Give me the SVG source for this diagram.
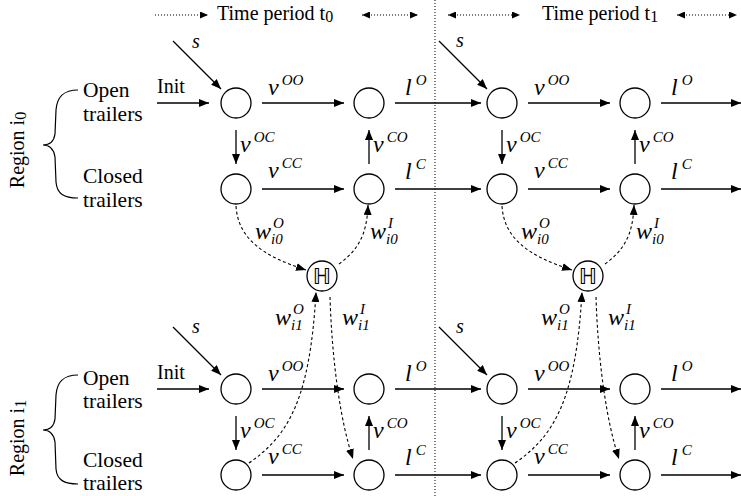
<svg xmlns="http://www.w3.org/2000/svg" width="741" height="496" viewBox="0 0 741 496">
<defs>
<marker id="ah" markerUnits="userSpaceOnUse" markerWidth="10" markerHeight="8" refX="10" refY="4" orient="auto-start-reverse"><path d="M0,0 L10,4 L0,8 z" fill="#000"/></marker>
<marker id="as" markerUnits="userSpaceOnUse" markerWidth="8" markerHeight="7" refX="8" refY="3.5" orient="auto-start-reverse"><path d="M0,0 L8,3.5 L0,7 z" fill="#000"/></marker>
<style>
.t{font-family:"Liberation Serif","Times New Roman",serif;font-size:20px;fill:#000}
.big{font-size:21.5px}
.it{font-style:italic}
.m{font-family:"Liberation Serif","Times New Roman",serif;font-size:24px;font-style:italic;fill:#000}
.sp{font-family:"Liberation Serif","Times New Roman",serif;font-size:15px;font-style:italic;fill:#000}
.n{fill:#fff;stroke:#000;stroke-width:1.3}
.e{stroke:#000;stroke-width:1.3;fill:none;marker-end:url(#ah)}
.d{stroke:#000;stroke-width:1.1;fill:none;stroke-dasharray:3,2.5;marker-end:url(#ah)}
.h{stroke:#000;stroke-width:1;fill:none;stroke-dasharray:1,2;marker-end:url(#as)}
.hb{marker-start:url(#as)}
.br{stroke:#000;stroke-width:1.2;fill:none}
.hub{font-family:"DejaVu Sans",sans-serif;font-size:22px;fill:#000}
</style>
</defs>

<!-- header -->
<g id="header">
<line x1="435" y1="0" x2="435" y2="496" stroke="#000" stroke-width="1" stroke-dasharray="1,2"/>
<line class="h" x1="155" y1="15" x2="208" y2="15"/>
<line class="h hb" x1="362" y1="15" x2="418" y2="15"/>
<line class="h hb" x1="448" y1="15" x2="520" y2="15"/>
<line class="h hb" x1="677" y1="15" x2="737" y2="15"/>
<text class="t" x="217" y="20" font-size="20.5">Time period t<tspan font-size="16" dy="2">0</tspan></text>
<text class="t" x="542" y="20" font-size="20.5">Time period t<tspan font-size="16" dy="2">1</tspan></text>
</g>

<!-- region labels -->
<g id="region0">
<text class="t" transform="translate(24,150) rotate(-90)" text-anchor="middle">Region i<tspan font-size="16" dy="2">0</tspan></text>
<path class="br" d="M78,90 C64,90 57,96 56,110 L55,134 C54,141 50,145 43,145 C50,145 54,150 55,157 L56,182 C57,194 64,198 78,198"/>
<text class="t big" x="83" y="97">Open</text>
<text class="t big" x="83" y="121">trailers</text>
<text class="t big" x="83" y="183">Closed</text>
<text class="t big" x="83" y="207">trailers</text>
</g>
<g id="region1">
<text class="t" transform="translate(24,438) rotate(-90)" text-anchor="middle">Region i<tspan font-size="16" dy="2">1</tspan></text>
<path class="br" d="M78,375 C64,375 57,381 56,395 L55,419 C54,426 50,430 43,430 C50,430 54,435 55,442 L56,469 C57,480 64,484 78,484"/>
<text class="t big" x="83" y="385">Open</text>
<text class="t big" x="83" y="408">trailers</text>
<text class="t big" x="83" y="467">Closed</text>
<text class="t big" x="83" y="490">trailers</text>
</g>

<!-- nodes -->
<g id="n_t0_r0_open"><circle class="n" cx="236" cy="103" r="15"/></g>
<g id="n_t0_r0_open2"><circle class="n" cx="369" cy="103" r="15"/></g>
<g id="n_t0_r0_closed"><circle class="n" cx="236" cy="189" r="15"/></g>
<g id="n_t0_r0_closed2"><circle class="n" cx="369" cy="189" r="15"/></g>
<g id="n_t1_r0_open"><circle class="n" cx="502" cy="103" r="15"/></g>
<g id="n_t1_r0_open2"><circle class="n" cx="635" cy="103" r="15"/></g>
<g id="n_t1_r0_closed"><circle class="n" cx="502" cy="189" r="15"/></g>
<g id="n_t1_r0_closed2"><circle class="n" cx="635" cy="189" r="15"/></g>
<g id="n_t0_r1_open"><circle class="n" cx="236" cy="389" r="15"/></g>
<g id="n_t0_r1_open2"><circle class="n" cx="369" cy="389" r="15"/></g>
<g id="n_t0_r1_closed"><circle class="n" cx="236" cy="475" r="15"/></g>
<g id="n_t0_r1_closed2"><circle class="n" cx="369" cy="475" r="15"/></g>
<g id="n_t1_r1_open"><circle class="n" cx="502" cy="389" r="15"/></g>
<g id="n_t1_r1_open2"><circle class="n" cx="635" cy="389" r="15"/></g>
<g id="n_t1_r1_closed"><circle class="n" cx="502" cy="475" r="15"/></g>
<g id="n_t1_r1_closed2"><circle class="n" cx="635" cy="475" r="15"/></g>
<g id="hub_t0"><circle class="n" cx="322" cy="276" r="15"/><text class="hub" x="322" y="284" text-anchor="middle">ℍ</text></g>
<g id="hub_t1"><circle class="n" cx="588" cy="276" r="15"/><text class="hub" x="588" y="284" text-anchor="middle">ℍ</text></g>

<!-- connectors -->
<g id="connectors">
<line class="e" x1="173" y1="41" x2="221" y2="89"/>
<line class="e" x1="157" y1="103" x2="209" y2="103"/>
<line class="e" x1="262" y1="103" x2="344" y2="103"/>
<line class="e" x1="236" y1="130" x2="236" y2="164"/>
<line class="e" x1="369" y1="164" x2="369" y2="130"/>
<line class="e" x1="262" y1="189" x2="344" y2="189"/>
<line class="e" x1="395" y1="103" x2="481" y2="103"/>
<line class="e" x1="395" y1="189" x2="481" y2="189"/>
<line class="e" x1="439" y1="41" x2="487" y2="89"/>
<line class="e" x1="528" y1="103" x2="610" y2="103"/>
<line class="e" x1="502" y1="130" x2="502" y2="164"/>
<line class="e" x1="635" y1="164" x2="635" y2="130"/>
<line class="e" x1="528" y1="189" x2="610" y2="189"/>
<line class="e" x1="661" y1="103" x2="741" y2="103"/>
<line class="e" x1="661" y1="189" x2="741" y2="189"/>
<line class="e" x1="173" y1="327" x2="221" y2="375"/>
<line class="e" x1="157" y1="389" x2="209" y2="389"/>
<line class="e" x1="262" y1="389" x2="344" y2="389"/>
<line class="e" x1="236" y1="416" x2="236" y2="450"/>
<line class="e" x1="369" y1="450" x2="369" y2="416"/>
<line class="e" x1="262" y1="475" x2="344" y2="475"/>
<line class="e" x1="395" y1="389" x2="481" y2="389"/>
<line class="e" x1="395" y1="475" x2="481" y2="475"/>
<line class="e" x1="439" y1="327" x2="487" y2="375"/>
<line class="e" x1="528" y1="389" x2="610" y2="389"/>
<line class="e" x1="502" y1="416" x2="502" y2="450"/>
<line class="e" x1="635" y1="450" x2="635" y2="416"/>
<line class="e" x1="528" y1="475" x2="610" y2="475"/>
<line class="e" x1="661" y1="389" x2="741" y2="389"/>
<line class="e" x1="661" y1="475" x2="741" y2="475"/>
<path class="d" d="M236,206 C238,238 262,256 306,270"/>
<path class="d" d="M339,264 C358,250 367,235 368,205"/>
<path class="d" d="M249,463 C288,436 310,400 316,292"/>
<path class="d" d="M330,297 C332,360 340,420 353,459"/>
<path class="d" d="M502,206 C504,238 528,256 572,270"/>
<path class="d" d="M605,264 C624,250 633,235 634,205"/>
<path class="d" d="M515,463 C554,436 576,400 582,292"/>
<path class="d" d="M596,297 C598,360 606,420 619,459"/>
</g>

<!-- labels -->
<g id="labels">
<text class="t it" x="192" y="48">s</text>
<text class="t it" x="456" y="47">s</text>
<text class="t it" x="192" y="333">s</text>
<text class="t it" x="456" y="333">s</text>
<text class="t" x="157" y="93">Init</text>
<text class="t" x="157" y="379">Init</text>

<text class="m" x="268" y="95">v<tspan class="sp" dx="3" dy="-10">OO</tspan></text>
<text class="m" x="240" y="152">v<tspan class="sp" dx="3" dy="-10">OC</tspan></text>
<text class="m" x="373" y="152">v<tspan class="sp" dx="3" dy="-10">CO</tspan></text>
<text class="m" x="268" y="178">v<tspan class="sp" dx="3" dy="-10">CC</tspan></text>
<text class="m" x="405" y="95">l<tspan class="sp" dx="4" dy="-10">O</tspan></text>
<text class="m" x="405" y="179">l<tspan class="sp" dx="4" dy="-10">C</tspan></text>

<text class="m" x="534" y="95">v<tspan class="sp" dx="3" dy="-10">OO</tspan></text>
<text class="m" x="506" y="152">v<tspan class="sp" dx="3" dy="-10">OC</tspan></text>
<text class="m" x="639" y="152">v<tspan class="sp" dx="3" dy="-10">CO</tspan></text>
<text class="m" x="534" y="178">v<tspan class="sp" dx="3" dy="-10">CC</tspan></text>
<text class="m" x="671" y="95">l<tspan class="sp" dx="4" dy="-10">O</tspan></text>
<text class="m" x="671" y="179">l<tspan class="sp" dx="4" dy="-10">C</tspan></text>

<text class="m" x="268" y="381">v<tspan class="sp" dx="3" dy="-10">OO</tspan></text>
<text class="m" x="240" y="438">v<tspan class="sp" dx="3" dy="-10">OC</tspan></text>
<text class="m" x="373" y="438">v<tspan class="sp" dx="3" dy="-10">CO</tspan></text>
<text class="m" x="268" y="464">v<tspan class="sp" dx="3" dy="-10">CC</tspan></text>
<text class="m" x="405" y="381">l<tspan class="sp" dx="4" dy="-10">O</tspan></text>
<text class="m" x="405" y="465">l<tspan class="sp" dx="4" dy="-10">C</tspan></text>

<text class="m" x="534" y="381">v<tspan class="sp" dx="3" dy="-10">OO</tspan></text>
<text class="m" x="506" y="438">v<tspan class="sp" dx="3" dy="-10">OC</tspan></text>
<text class="m" x="639" y="438">v<tspan class="sp" dx="3" dy="-10">CO</tspan></text>
<text class="m" x="534" y="464">v<tspan class="sp" dx="3" dy="-10">CC</tspan></text>
<text class="m" x="671" y="381">l<tspan class="sp" dx="4" dy="-10">O</tspan></text>
<text class="m" x="671" y="465">l<tspan class="sp" dx="4" dy="-10">C</tspan></text>

<text class="m" x="255" y="239">w</text><text class="sp" x="273" y="228">O</text><text class="sp" x="271" y="244">i0</text>
<text class="m" x="370" y="239">w</text><text class="sp" x="388" y="228">I</text><text class="sp" x="386" y="244">i0</text>
<text class="m" x="275" y="325">w</text><text class="sp" x="293" y="314">O</text><text class="sp" x="291" y="330">i1</text>
<text class="m" x="342" y="325">w</text><text class="sp" x="360" y="314">I</text><text class="sp" x="358" y="330">i1</text>
<text class="m" x="521" y="239">w</text><text class="sp" x="539" y="228">O</text><text class="sp" x="537" y="244">i0</text>
<text class="m" x="636" y="239">w</text><text class="sp" x="654" y="228">I</text><text class="sp" x="652" y="244">i0</text>
<text class="m" x="541" y="325">w</text><text class="sp" x="559" y="314">O</text><text class="sp" x="557" y="330">i1</text>
<text class="m" x="608" y="325">w</text><text class="sp" x="626" y="314">I</text><text class="sp" x="624" y="330">i1</text>
</g>
</svg>
